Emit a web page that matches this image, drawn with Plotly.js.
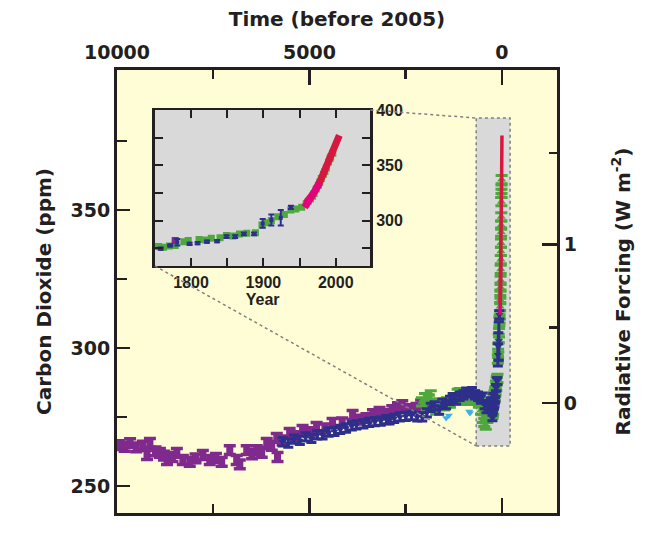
<!DOCTYPE html>
<html><head><meta charset="utf-8">
<script src="https://cdn.plot.ly/plotly-3.0.1.min.js"></script>
<style>html,body{margin:0;padding:0;background:#fff}</style>
</head><body><div id="chart" style="width:658px;height:533px"></div>
<script>
// ---------------- DATA ----------------
// Ice-core records: time in years before 2005, CO2 in ppm
const purpleBP  = [9950,9800,9660,9500,9330,9220,9145,9000,8885,8780,8700,8560,8445,8290,8110,7960,7770,7590,7430,7280,7070,6890,6810,6630,6490,6370,6240,6110,5980,5850,5830,5700,5515,5350,5180,5000,4815,4600,4400,4150,3880,3700,3520,3350,3180,3000,2850,2700,2590,2400,2220,2100,227];
const purpleCO2 = [264.8,264.2,265.5,264.0,264.6,261.2,265.6,262.5,262.0,261.0,259.4,260.5,262.0,259.4,258.7,260.0,261.2,259.4,260.2,258.7,263.0,259.4,257.8,263.0,261.5,263.0,262.0,265.6,264.5,267.4,260.5,266.5,269.2,268.0,270.3,269.5,271.4,270.8,272.8,273.0,275.7,274.0,274.6,276.0,276.8,276.0,277.5,278.5,279.3,277.8,278.3,279.5,282.0];

const blueBP  = [5700,5550,5400,5250,5100,4950,4800,4660,4500,4350,4200,4050,3900,3780,3600,3450,3300,3150,3000,2920,2800,2650,2500,2350,2200,2070,1950,1850,1750,1630,1550,1450,1350,1280,1190,1100,1000,930,850,780,700,620,550,510,450,400,350,300,247,234,224,207,196,183,169,156,144,132,118,106,94,81,67];
const blueCO2 = [266.0,265.5,267.0,266.5,267.8,267.2,268.5,268.5,269.5,269.8,270.5,271.0,271.8,272.1,272.5,273.0,273.3,273.5,274.0,273.9,274.5,275.0,275.2,275.5,275.0,275.0,276.5,278.5,279.0,277.5,280.0,279.5,281.0,282.0,281.2,282.5,283.0,284.0,283.7,284.2,283.0,282.5,281.5,282.2,279.5,278.0,279.0,280.5,274.6,277.5,280.5,279.0,279.6,281.0,281.4,285.6,285.6,288.0,288.0,297.5,300.5,302.5,312.0];
const blueErr = [1.5,1.5,1.5,1.5,1.5,1.5,1.5,1.5,1.5,1.5,1.5,1.5,1.5,1.5,1.5,1.5,1.5,1.5,1.5,1.5,1.5,1.5,1.5,1.5,1.5,1.5,1.5,1.5,1.5,1.5,1.5,1.5,1.5,1.5,1.5,1.5,1.5,1.5,1.5,1.5,1.5,1.5,1.5,1.5,1.5,1.5,1.5,1.5,1.0,1.0,3.0,1.0,1.0,1.0,1.0,1.2,1.2,1.2,1.2,4.0,5.0,7.0,1.5];

const greenBP  = [2080,2000,1950,1900,1850,1780,1710,1650,1580,1500,1430,1350,1280,1200,1150,1100,1050,1000,950,880,800,720,650,600,540,500,460,420,380,330,290,250,243,235,227,215,209,194,185,177,165,156,147,138,128,116,107,100,94,85,76,67,60,52,46,43,40,37,35,32,29,27,25,22,20,18,15,13,12,9];
const greenCO2 = [280.5,282.0,279.0,281.5,283.0,278.5,277.5,280.0,279.5,279.0,280.5,280.0,281.0,282.0,283.5,283.8,282.5,281.0,282.0,282.5,281.0,283.0,281.5,280.0,277.5,274.5,273.0,272.0,274.5,276.5,277.0,276.5,276.0,277.0,277.5,281.0,282.0,283.0,282.5,284.0,284.5,286.5,286.0,288.0,288.5,289.0,296.0,298.0,300.0,303.5,305.5,309.5,310.5,312.0,315.0,317.5,319.5,322.0,324.5,328.5,332.0,335.0,338.0,342.0,344.5,347.5,353.0,356.0,357.5,361.0];

const lightBP  = [1450,1380,850,830];
const lightCO2 = [274.6,275.5,277.0,276.4];

// Instrumental records: calendar year, CO2 in ppm
const mloYear = [1959,1961,1963,1965,1967,1969,1971,1973,1975,1977,1979,1981,1983,1985,1987,1989,1991,1993,1995,1997,1999,2001,2003,2005];
const mloCO2  = [316.0,317.6,319.0,320.0,322.2,324.6,326.3,329.2,331.1,333.6,336.5,339.6,342.6,345.4,348.3,351.8,354.3,356.3,359.6,362.6,366.4,369.6,373.3,377.0];
const spoYear = [1957,1960,1963,1966,1969,1972,1975,1978];
const spoCO2  = [312.0,315.5,318.0,320.5,323.5,327.0,330.3,333.8];

// Radiative forcing ticks (W m-2), CO2 reference 280 ppm, RF = 5.35 ln(C/C0)
const rfMajor = [0, 1];
const rfMinor = [0.5, 1.5];
const CO2_REF = 280;

// Axis ticks
const timeMajor = [10000, 5000, 0];
const timeMinor = [7500, 2500];
const co2Major = [250, 300, 350];
const co2Minor = [275, 325, 375];
const yearMajor = [1800, 1900, 2000];
const yearMinor = [1850, 1950];
const insetMajor = [300, 350, 400];
const insetMinor = [275, 325, 375];

// ---------------- LAYOUT CONSTANTS ----------------
const X_RANGE = [10000, -1430];
const Y_RANGE = [240.2, 400.7];
const INSET_X = [0.0862, 0.576];
const INSET_Y = [0.5576, 0.9097];
const INSET_XR = [1750, 2048];
const INSET_YR = [259, 400];
const ZOOM_BP = [669, -212];
const ZOOM_CO2 = [264.5, 383.3];

const C_PURPLE = '#7f2a8c', C_BLUE = '#2d2f8a', C_GREEN = '#4fa83d', C_LIGHT = '#3fb0e6', C_RED = '#d6173f', C_MAG = '#e5007e';
const INK = '#231f20';

const toYear = a => a.map(v => 2005 - v);
const toBP = a => a.map(v => 2005 - v);
const rf2co2 = r => CO2_REF * Math.exp(r / 5.35);

function inInset(xs, ys, err) {
  const ox = [], oy = [], oe = [];
  xs.forEach((x, i) => { if (x >= INSET_XR[0] - 2) { ox.push(x); oy.push(ys[i]); if (err) oe.push(err[i]); } });
  return {x: ox, y: oy, e: oe};
}

const traces = [];
// ---- main chart ----
traces.push({x: purpleBP, y: purpleCO2, mode: 'markers', type: 'scatter', hoverinfo: 'skip',
  marker: {symbol: 'square', size: 7, color: C_PURPLE},
  error_y: {type: 'constant', value: 1.6, width: 6, thickness: 3.5, color: C_PURPLE}});
traces.push({x: greenBP, y: greenCO2, mode: 'markers', type: 'scatter', hoverinfo: 'skip',
  marker: {symbol: 'triangle-up', size: 8, color: C_GREEN},
  error_y: {type: 'constant', value: 1.5, width: 6, thickness: 3, color: C_GREEN}});
traces.push({x: blueBP, y: blueCO2, mode: 'markers', type: 'scatter', hoverinfo: 'skip',
  marker: {symbol: 'triangle-down', size: 7, color: C_BLUE},
  error_y: {type: 'data', array: blueErr, width: 5, thickness: 3, color: C_BLUE}});
traces.push({x: lightBP, y: lightCO2, mode: 'markers', type: 'scatter', hoverinfo: 'skip',
  marker: {symbol: 'triangle-down', size: 7, color: C_LIGHT}});
traces.push({x: toBP(mloYear), y: mloCO2, mode: 'lines', type: 'scatter', hoverinfo: 'skip', yaxis: 'y2',
  line: {color: C_RED, width: 3.5}});
traces.push({x: toBP(spoYear), y: spoCO2, mode: 'lines', type: 'scatter', hoverinfo: 'skip',
  line: {color: C_MAG, width: 3.5}});

// ---- inset ----
const gI = inInset(toYear(greenBP), greenCO2);
traces.push({x: gI.x, y: gI.y, xaxis: 'x3', yaxis: 'y3', mode: 'markers', type: 'scatter', hoverinfo: 'skip',
  marker: {symbol: 'square', size: 7, color: C_GREEN}});
const pI = inInset(toYear(purpleBP), purpleCO2);
traces.push({x: pI.x, y: pI.y, xaxis: 'x3', yaxis: 'y3', mode: 'markers', type: 'scatter', hoverinfo: 'skip',
  marker: {symbol: 'square', size: 7, color: C_PURPLE}});
const bI = inInset(toYear(blueBP), blueCO2, blueErr);
traces.push({x: bI.x, y: bI.y, xaxis: 'x3', yaxis: 'y3', mode: 'markers', type: 'scatter', hoverinfo: 'skip',
  marker: {symbol: 'square', size: 4, color: C_BLUE},
  error_y: {type: 'data', array: bI.e, width: 3, thickness: 2, color: C_BLUE}});
traces.push({x: mloYear, y: mloCO2, xaxis: 'x3', yaxis: 'y3', mode: 'lines', type: 'scatter', hoverinfo: 'skip',
  line: {color: C_RED, width: 7}});
traces.push({x: spoYear, y: spoCO2, xaxis: 'x3', yaxis: 'y3', mode: 'lines', type: 'scatter', hoverinfo: 'skip',
  line: {color: C_MAG, width: 7}});

const px = bp => (bp - X_RANGE[0]) / (X_RANGE[1] - X_RANGE[0]);
const py = c => (c - Y_RANGE[0]) / (Y_RANGE[1] - Y_RANGE[0]);

const bigFont = {family: 'DejaVu Sans', size: 19, color: INK, weight: 'bold'};
const titleFont = {family: 'DejaVu Sans', size: 20, color: INK, weight: 'bold'};
const smallFont = {family: 'Liberation Sans', size: 16, color: INK, weight: 'bold'};

const layout = {
  width: 658, height: 533,
  margin: {l: 117, r: 101, t: 70, b: 20, pad: 0},
  paper_bgcolor: '#ffffff', plot_bgcolor: '#fffdd6',
  showlegend: false,
  xaxis: {range: X_RANGE, side: 'top', showgrid: false, zeroline: false,
    tickmode: 'array', tickvals: timeMajor, ticktext: timeMajor.map(String),
    ticks: 'inside', ticklen: 15, tickwidth: 2.5, tickcolor: INK,
    minor: {tickvals: timeMinor, ticks: 'inside', ticklen: 9, tickwidth: 2.5, tickcolor: INK, showgrid: false},
    showline: true, linewidth: 3, linecolor: INK, mirror: 'ticks',
    tickfont: bigFont, title: {text: 'Time (before 2005)', font: titleFont, standoff: 10}},
  yaxis: {range: Y_RANGE, showgrid: false, zeroline: false,
    tickmode: 'array', tickvals: co2Major,
    ticks: 'inside', ticklen: 13, tickwidth: 2.5, tickcolor: INK,
    minor: {tickvals: co2Minor, ticks: 'inside', ticklen: 10, tickwidth: 2.5, tickcolor: INK, showgrid: false},
    showline: true, linewidth: 3, linecolor: INK,
    tickfont: bigFont, title: {text: 'Carbon Dioxide (ppm)', font: titleFont, standoff: 14}},
  yaxis2: {range: Y_RANGE, overlaying: 'y', side: 'right', anchor: 'x', showgrid: false, zeroline: false,
    tickmode: 'array', tickvals: rfMajor.map(rf2co2), ticktext: rfMajor.map(String),
    ticks: 'inside', ticklen: 15, tickwidth: 2.5, tickcolor: INK,
    minor: {tickvals: rfMinor.map(rf2co2), ticks: 'inside', ticklen: 8, tickwidth: 2.5, tickcolor: INK, showgrid: false},
    showline: true, linewidth: 3, linecolor: INK,
    tickfont: bigFont, title: {text: 'Radiative Forcing (W m<sup>-2</sup>)', font: titleFont, standoff: 40}},
  xaxis3: {domain: INSET_X, anchor: 'y3', range: INSET_XR, showgrid: false, zeroline: false,
    tickmode: 'array', tickvals: yearMajor, ticktext: yearMajor.map(String),
    ticks: 'inside', ticklen: 8, tickwidth: 2, tickcolor: INK,
    minor: {tickvals: yearMinor, ticks: 'inside', ticklen: 8, tickwidth: 2, tickcolor: INK, showgrid: false},
    showline: true, linewidth: 2.5, linecolor: INK, mirror: 'ticks',
    tickfont: smallFont, title: {text: 'Year', font: smallFont, standoff: 2}},
  yaxis3: {domain: INSET_Y, anchor: 'x3', range: INSET_YR, side: 'right', showgrid: false, zeroline: false,
    tickmode: 'array', tickvals: insetMajor, ticktext: insetMajor.map(String),
    ticks: 'inside', ticklen: 8, tickwidth: 2, tickcolor: INK,
    minor: {tickvals: insetMinor, ticks: 'inside', ticklen: 8, tickwidth: 2, tickcolor: INK, showgrid: false},
    showline: true, linewidth: 2.5, linecolor: INK, mirror: 'ticks',
    tickfont: smallFont},
  shapes: [
    {type: 'rect', xref: 'x', yref: 'y', x0: ZOOM_BP[0], x1: ZOOM_BP[1], y0: ZOOM_CO2[0], y1: ZOOM_CO2[1],
      fillcolor: '#d9d9d9', line: {color: '#808080', width: 1.5, dash: 'dot'}, layer: 'below'},
    {type: 'rect', xref: 'x3', yref: 'y3', x0: INSET_XR[0], x1: INSET_XR[1], y0: INSET_YR[0], y1: INSET_YR[1],
      fillcolor: '#d9d9d9', line: {width: 0}, layer: 'below'},
    {type: 'line', xref: 'paper', yref: 'paper', x0: INSET_X[1], y0: INSET_Y[1], x1: px(ZOOM_BP[0]), y1: py(ZOOM_CO2[1]),
      line: {color: '#808080', width: 1.5, dash: 'dot'}},
    {type: 'line', xref: 'paper', yref: 'paper', x0: INSET_X[0], y0: INSET_Y[0], x1: px(ZOOM_BP[0]), y1: py(ZOOM_CO2[0]),
      line: {color: '#808080', width: 1.5, dash: 'dot'}}
  ]
};

Plotly.newPlot('chart', traces, layout, {staticPlot: true, displayModeBar: false});
</script></body></html>
